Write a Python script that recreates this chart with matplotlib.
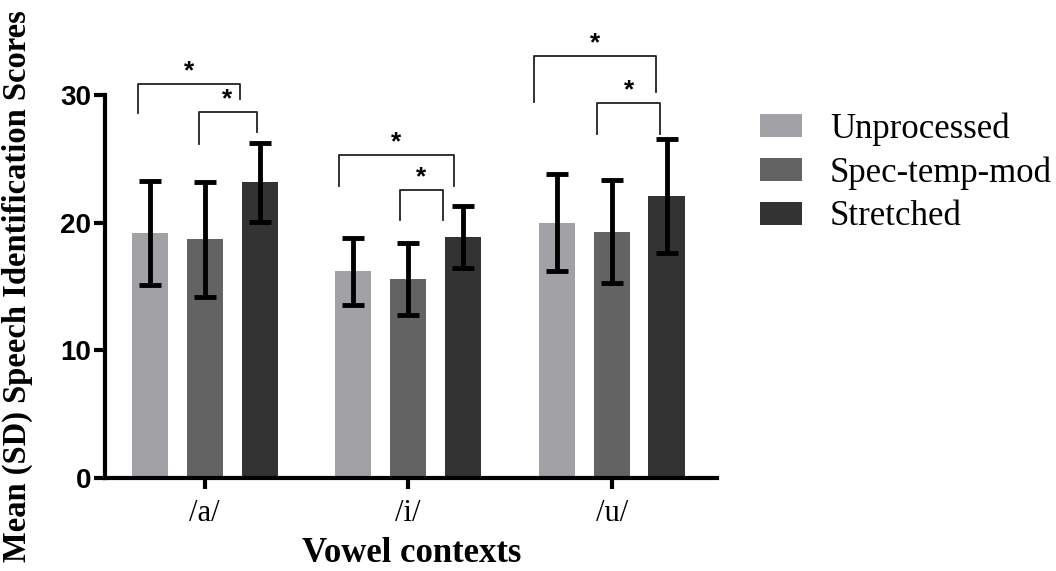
import matplotlib
matplotlib.use('Agg')
import matplotlib.pyplot as plt
import numpy as np

vowels = ['/a/', '/i/', '/u/']
conditions = ['Unprocessed', 'Spec-temp-mod', 'Stretched']
means = {
    'Unprocessed':   [19.2, 16.2, 20.0],
    'Spec-temp-mod': [18.7, 15.6, 19.3],
    'Stretched':     [23.2, 18.9, 22.1],
}
sds = {
    'Unprocessed':   [4.1, 2.65, 3.8],
    'Spec-temp-mod': [4.5, 2.8, 4.05],
    'Stretched':     [3.1, 2.45, 4.5],
}
colors = ['#a2a2a6', '#636363', '#333333']

# significance brackets: (group, x_left, x_right, top, left_end, right_end)
brackets = [
    (0, -0.33, 0.175, 30.9, 28.6, 29.7),
    (0, -0.03, 0.255, 28.7, 26.2, 27.1),
    (1, -0.34, 0.225, 25.3, 22.9, 22.9),
    (1, -0.04, 0.17, 22.6, 20.2, 20.2),
    (2, -0.38, 0.22, 33.1, 29.5, 30.3),
    (2, -0.07, 0.24, 29.4, 27.0, 27.0),
]

fig = plt.figure(figsize=(10.56, 5.71), dpi=100)
ax = fig.add_axes([0.0994, 0.163, 0.580, 0.670])

x = np.arange(len(vowels))
step = 0.27
width = 0.178
for i, c in enumerate(conditions):
    pos = x + (i - 1) * step
    ax.bar(pos, means[c], width, color=colors[i], label=c, zorder=2)
    ax.errorbar(pos, means[c], yerr=sds[c], fmt='none', ecolor='black',
                elinewidth=3.5, capsize=8, capthick=3.5, zorder=3)

for g, xl, xr, top, le, re in brackets:
    ax.plot([x[g] + xl, x[g] + xl, x[g] + xr, x[g] + xr], [le, top, top, re],
            color='#222222', lw=1.3, clip_on=False, zorder=4)
    ax.text(x[g] + (xl + xr) / 2, top + 0.05, '*', ha='center', va='bottom',
            fontsize=19, fontweight='bold', family='Liberation Sans', clip_on=False)

ax.set_xlim(-0.49, 2.52)
ax.set_ylim(0, 30)
ax.set_yticks([0, 10, 20, 30])
ax.set_xticks(x)
ax.set_xticklabels(vowels, family='Liberation Serif', fontsize=22)
for lab in ax.get_yticklabels():
    lab.set_family('Liberation Sans')
    lab.set_fontweight('bold')
    lab.set_fontsize(20)
ax.tick_params(axis='both', length=8, width=3, direction='out')
ax.tick_params(axis='x', pad=7)
ax.tick_params(axis='y', pad=2)
ax.spines['top'].set_visible(False)
ax.spines['right'].set_visible(False)
ax.spines['left'].set_linewidth(3)
ax.spines['bottom'].set_linewidth(3)

ax.set_xlabel('Vowel contexts', family='Liberation Serif', fontweight='bold',
              fontsize=25, labelpad=7)
ax.set_ylabel('Mean (SD) Speech Identification Scores', family='Liberation Serif',
              fontweight='bold', fontsize=23.5)
ax.yaxis.set_label_coords(-0.118, 0.501)

ax.legend(loc='upper left', bbox_to_anchor=(1.07, 0.955), frameon=False,
          prop={'family': 'Liberation Serif', 'size': 25}, borderaxespad=0, borderpad=0,
          handlelength=1.2, handleheight=0.65, labelspacing=0.3, handletextpad=0.8)

fig.savefig('out.png', dpi=100)
